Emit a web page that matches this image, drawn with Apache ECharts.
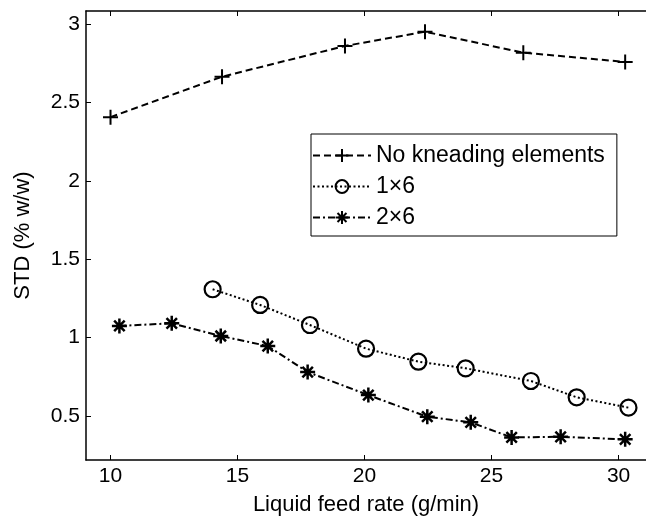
<!DOCTYPE html>
<html>
<head>
<meta charset="utf-8">
<script src="https://cdn.jsdelivr.net/npm/echarts@6/dist/echarts.min.js"></script>
<style>
  html, body { margin: 0; padding: 0; background: #fff; }
  #chart { width: 646px; height: 521px; }
</style>
</head>
<body>
<div id="chart"></div>
<script>
// Datos
const noKneadX = [10.0, 14.39, 19.23, 22.38, 26.25, 30.26];
const noKneadY = [2.406, 2.664, 2.86, 2.951, 2.817, 2.758];

const oneSixX = [14.02, 15.89, 17.85, 20.06, 22.12, 23.98, 26.55, 28.35, 30.39];
const oneSixY = [1.308, 1.208, 1.080, 0.929, 0.846, 0.804, 0.723, 0.619, 0.553];

const twoSixX = [10.35, 12.41, 14.34, 16.19, 17.76, 20.15, 22.47, 24.18, 25.79, 27.72, 30.26];
const twoSixY = [1.074, 1.091, 1.010, 0.946, 0.780, 0.633, 0.495, 0.459, 0.363, 0.367, 0.351];

const xTicks = [10, 15, 20, 25, 30];
const yTicks = [0.5, 1, 1.5, 2, 2.5, 3];

const seriesNames = ['No kneading elements', '1\u00d76', '2\u00d76'];

const pairs = (xs, ys) => xs.map((x, i) => [x, ys[i]]);

const plusPath = 'path://M0,-10L0,10M-10,0L10,0';
const starPath = 'path://M0,-10L0,10M-10,0L10,0M-7,-7L7,7M-7,7L7,-7';

const font = 'Liberation Sans, Arial, sans-serif';
const xMin = 9.035, xMax = 31.08;

const chart = echarts.init(document.getElementById('chart'));

const option = {
    animation: false,
    backgroundColor: '#fff',
    grid: {
        left: 86,
        top: 11,
        right: 0,
        bottom: 61,
        show: false
    },
    legend: {
        left: 311,
        top: 134,
        orient: 'vertical',
        backgroundColor: '#fff',
        borderColor: '#000',
        borderWidth: 1,
        borderRadius: 0,
        padding: [10, 12, 7, 1],
        itemWidth: 58,
        itemHeight: 16,
        itemGap: 8,
        textStyle: { fontFamily: font, fontSize: 23, color: '#000' },
        data: seriesNames
    },
    xAxis: [{
        type: 'value',
        min: xMin,
        max: xMax,
        name: 'Liquid feed rate (g/min)',
        nameLocation: 'middle',
        nameGap: 34,
        nameTextStyle: { fontFamily: font, fontSize: 22, color: '#000' },
        splitLine: { show: false },
        axisLine: { show: true, onZero: false, lineStyle: { color: '#000', width: 1.5 } },
        axisTick: { show: true, inside: true, length: 5, customValues: xTicks, lineStyle: { color: '#000' } },
        axisLabel: { customValues: xTicks, fontFamily: font, fontSize: 21, color: '#000', margin: 6 }
    }, {
        type: 'value',
        position: 'top',
        min: xMin,
        max: xMax,
        splitLine: { show: false },
        axisLine: { show: true, onZero: false, lineStyle: { color: '#000', width: 1.5 } },
        axisTick: { show: true, inside: true, length: 5, customValues: xTicks, lineStyle: { color: '#000' } },
        axisLabel: { show: false }
    }],
    yAxis: {
        type: 'value',
        min: 0.219,
        max: 3.083,
        name: 'STD (% w/w)',
        nameLocation: 'middle',
        nameGap: 52,
        nameTextStyle: { fontFamily: font, fontSize: 22, color: '#000' },
        splitLine: { show: false },
        axisLine: { show: true, onZero: false, lineStyle: { color: '#000', width: 1.5 } },
        axisTick: { show: true, inside: true, length: 5, customValues: yTicks, lineStyle: { color: '#000' } },
        axisLabel: { customValues: yTicks, fontFamily: font, fontSize: 21, color: '#000', margin: 6 }
    },
    series: [{
        name: seriesNames[0],
        type: 'line',
        data: pairs(noKneadX, noKneadY),
        symbol: plusPath,
        symbolSize: 15,
        showAllSymbol: true,
        lineStyle: { color: '#000', width: 2, type: [7, 4] },
        itemStyle: { color: 'none', borderColor: '#000', borderWidth: 2 }
    }, {
        name: seriesNames[1],
        type: 'line',
        data: pairs(oneSixX, oneSixY),
        symbol: 'circle',
        symbolSize: 16,
        showAllSymbol: true,
        lineStyle: { color: '#000', width: 2, type: [2, 2.5] },
        itemStyle: { color: 'transparent', borderColor: '#000', borderWidth: 2.2 }
    }, {
        name: seriesNames[2],
        type: 'line',
        data: pairs(twoSixX, twoSixY),
        symbol: starPath,
        symbolSize: 15,
        showAllSymbol: true,
        lineStyle: { color: '#000', width: 2, type: [7, 3, 2, 3] },
        itemStyle: { color: 'none', borderColor: '#000', borderWidth: 2.5 }
    }]
};

chart.setOption(option);
</script>
</body>
</html>
